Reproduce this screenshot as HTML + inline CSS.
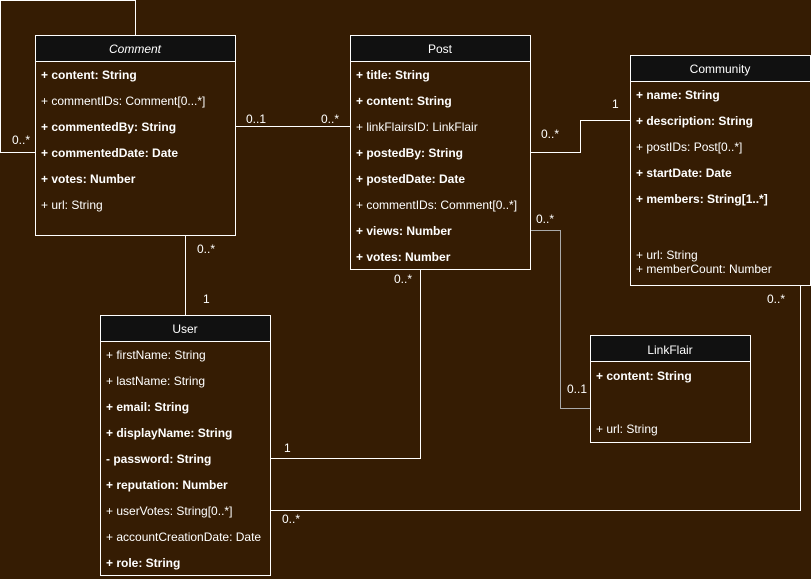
<!DOCTYPE html>
<html><head><meta charset="utf-8"><style>
html,body{margin:0;padding:0;background:#351c03;}
svg{display:block;font-family:"Liberation Sans",Arial,sans-serif;}
text{fill:#fff;font-size:12px;}
.b{font-weight:bold;}
.h{text-anchor:middle;font-size:12px;}
</style></head><body>
<svg width="811" height="579" viewBox="0 0 811 579" xmlns="http://www.w3.org/2000/svg">
<rect width="811" height="579" fill="#351c03"/>
<g fill="none" stroke="#fff" stroke-width="1">
<polyline points="35.5,152.5 0.5,152.5 0.5,0.5 135.5,0.5 135.5,35"/>
<line x1="235" y1="126.5" x2="350" y2="126.5"/>
<line x1="185.5" y1="235" x2="185.5" y2="315"/>
<polyline points="530,152.5 580.5,152.5 580.5,120.5 630,120.5"/>
<polyline points="530,230.5 560.5,230.5 560.5,408.5 590,408.5" stroke="#aaa"/>
<polyline points="420.5,269 420.5,458.5 270,458.5"/>
<polyline points="800.5,285 800.5,510.5 270,510.5"/>
</g>
<!-- Comment -->
<rect x="35.5" y="35.5" width="200" height="200" fill="#351c03" stroke="#fff"/>
<rect x="36" y="36" width="199" height="25" fill="#111"/>
<line x1="35" y1="61.5" x2="236" y2="61.5" stroke="#fff"/>
<text x="135" y="53" class="h" font-style="italic">Comment</text>
<text x="41" y="79" class="b">+ content: String</text>
<text x="41" y="105">+ commentIDs: Comment[0...*]</text>
<text x="41" y="131" class="b">+ commentedBy: String</text>
<text x="41" y="157" class="b">+ commentedDate: Date</text>
<text x="41" y="183" class="b">+ votes: Number</text>
<text x="41" y="209">+ url: String</text>
<!-- Post -->
<rect x="350.5" y="35.5" width="180" height="234" fill="#351c03" stroke="#fff"/>
<rect x="351" y="36" width="179" height="25" fill="#111"/>
<line x1="350" y1="61.5" x2="531" y2="61.5" stroke="#fff"/>
<text x="440" y="53" class="h">Post</text>
<text x="356" y="79" class="b">+ title: String</text>
<text x="356" y="105" class="b">+ content: String</text>
<text x="356" y="131">+ linkFlairsID: LinkFlair</text>
<text x="356" y="157" class="b">+ postedBy: String</text>
<text x="356" y="183" class="b">+ postedDate: Date</text>
<text x="356" y="209">+ commentIDs: Comment[0..*]</text>
<text x="356" y="235" class="b">+ views: Number</text>
<text x="356" y="261" class="b">+ votes: Number</text>
<!-- Community -->
<rect x="630.5" y="55.5" width="180" height="230" fill="#351c03" stroke="#fff"/>
<rect x="631" y="56" width="179" height="25" fill="#111"/>
<line x1="630" y1="81.5" x2="811" y2="81.5" stroke="#fff"/>
<text x="720" y="73" class="h">Community</text>
<text x="636" y="99" class="b">+ name: String</text>
<text x="636" y="125" class="b">+ description: String</text>
<text x="636" y="151">+ postIDs: Post[0..*]</text>
<text x="636" y="177" class="b">+ startDate: Date</text>
<text x="636" y="203" class="b">+ members: String[1..*]</text>
<text x="636" y="259">+ url: String</text>
<text x="636" y="273">+ memberCount: Number</text>
<!-- User -->
<rect x="100.5" y="315.5" width="170" height="260" fill="#351c03" stroke="#fff"/>
<rect x="101" y="316" width="169" height="25" fill="#111"/>
<line x1="100" y1="341.5" x2="271" y2="341.5" stroke="#fff"/>
<text x="185" y="333" class="h">User</text>
<text x="106" y="359">+ firstName: String</text>
<text x="106" y="385">+ lastName: String</text>
<text x="106" y="411" class="b">+ email: String</text>
<text x="106" y="437" class="b">+ displayName: String</text>
<text x="106" y="463" class="b">- password: String</text>
<text x="106" y="489" class="b">+ reputation: Number</text>
<text x="106" y="515">+ userVotes: String[0..*]</text>
<text x="106" y="541">+ accountCreationDate: Date</text>
<text x="106" y="567" class="b">+ role: String</text>
<!-- LinkFlair -->
<rect x="590.5" y="335.5" width="160" height="107" fill="#351c03" stroke="#fff"/>
<rect x="591" y="336" width="159" height="25" fill="#111"/>
<line x1="590" y1="361.5" x2="751" y2="361.5" stroke="#fff"/>
<text x="670" y="354" class="h">LinkFlair</text>
<text x="596" y="380" class="b">+ content: String</text>
<text x="596" y="433">+ url: String</text>
<!-- labels -->
<text x="12" y="144">0..*</text>
<text x="246" y="123">0..1</text>
<text x="321" y="123">0..*</text>
<text x="197" y="253">0..*</text>
<text x="203" y="303">1</text>
<text x="541" y="138">0..*</text>
<text x="612" y="108">1</text>
<text x="536" y="223">0..*</text>
<text x="567" y="393">0..1</text>
<text x="394" y="283">0..*</text>
<text x="284" y="452">1</text>
<text x="767" y="303">0..*</text>
<text x="282" y="523">0..*</text>
</svg>
</body></html>
